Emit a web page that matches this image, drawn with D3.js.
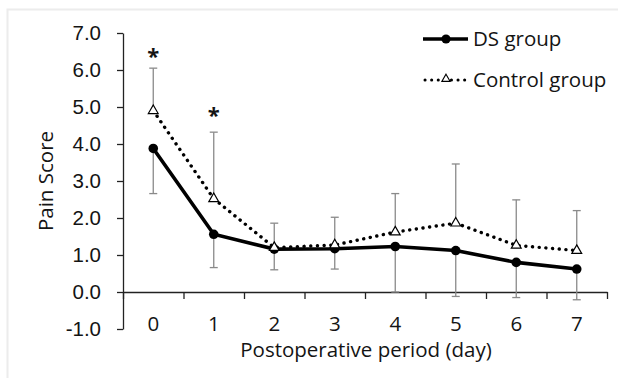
<!DOCTYPE html>
<html>
<head>
<meta charset="utf-8">
<script src="https://cdn.jsdelivr.net/npm/d3@7"></script>
<style>
  body { margin: 0; background: #fff; }
  svg { display: block; font-family: "Open Sans", sans-serif; }
</style>
</head>
<body>
<svg width="618" height="378"></svg>
<script>
const days = [0, 1, 2, 3, 4, 5, 6, 7];
const dsMean = [3.88, 1.56, 1.16, 1.17, 1.23, 1.12, 0.8, 0.62];
const dsSD = [1.22, 0.9, 0.56, 0.55, 1.23, 1.24, 0.95, 0.83];
const ctrlMean = [4.9, 2.52, 1.2, 1.27, 1.62, 1.86, 1.26, 1.12];
const ctrlSD = [1.15, 1.8, 0.66, 0.75, 1.04, 1.6, 1.23, 1.08];
const signifDays = [0, 1];
const signifAt = [6.5, 4.9];
const yTicks = [-1, 0, 1, 2, 3, 4, 5, 6, 7];

const svg = d3.select('svg');
const ink = '#141414';
const fs = 20.5;

// light frame
svg.append('path')
  .attr('d', 'M7.5,380 V9.5 H620')
  .attr('fill', 'none')
  .attr('stroke', '#ececec')
  .attr('stroke-width', 2);

const x = d3.scaleBand().domain(days).range([123, 607]);
const xEdge = d3.scaleLinear().domain([-0.5, 7.5]).range([123, 607]);
const y = d3.scaleLinear().domain([-1, 7]).range([329, 33]);
const cx = d => x(d) + x.bandwidth() / 2;

// y axis
const yAxis = svg.append('g')
  .attr('transform', 'translate(123,0)')
  .call(d3.axisLeft(y).tickValues(yTicks).tickSize(6).tickSizeOuter(0).tickPadding(16)
    .tickFormat(d => d3.format('.1f')(d).replace('\u2212', '-')));
yAxis.selectAll('text').attr('font-size', fs).attr('fill', ink).attr('font-family', null);

// x axis at zero, ticks between categories
svg.append('g')
  .attr('transform', `translate(0,${y(0)})`)
  .call(d3.axisBottom(xEdge).tickValues(d3.range(-0.5, 8, 1)).tickSize(7).tickSizeOuter(0).tickFormat(''));
svg.selectAll('.domain, .tick line').attr('stroke', '#222').attr('stroke-width', 1.3);

svg.append('g')
  .selectAll('text')
  .data(days)
  .join('text')
  .attr('x', d => cx(d))
  .attr('y', 331)
  .attr('text-anchor', 'middle')
  .attr('font-size', fs)
  .attr('fill', ink)
  .text(d => d);

// axis titles
svg.append('text')
  .attr('transform', 'translate(53,181) rotate(-90)')
  .attr('text-anchor', 'middle')
  .attr('font-size', fs)
  .attr('fill', ink)
  .text('Pain Score');
svg.append('text')
  .attr('x', 366)
  .attr('y', 357)
  .attr('text-anchor', 'middle')
  .attr('font-size', fs)
  .attr('fill', ink)
  .text('Postoperative period (day)');

// error bars: control upward, DS downward
const bars = svg.append('g').attr('stroke', '#8a8a8a').attr('stroke-width', 1.3);
function errBar(mean, sd, dir) {
  days.forEach((d, i) => {
    const y0 = y(mean[i]), y1 = y(mean[i] + dir * sd[i]);
    bars.append('line').attr('x1', cx(d)).attr('x2', cx(d)).attr('y1', y0).attr('y2', y1);
    bars.append('line').attr('x1', cx(d) - 4).attr('x2', cx(d) + 4).attr('y1', y1).attr('y2', y1);
  });
}
errBar(ctrlMean, ctrlSD, 1);
errBar(dsMean, dsSD, -1);

const line = d3.line().x((d, i) => cx(days[i])).y(d => y(d));

svg.append('path')
  .datum(ctrlMean)
  .attr('d', line)
  .attr('fill', 'none')
  .attr('stroke', '#000')
  .attr('stroke-width', 3.4)
  .attr('stroke-linecap', 'round')
  .attr('stroke-dasharray', '0.1,6.6');

svg.append('path')
  .datum(dsMean)
  .attr('d', line)
  .attr('fill', 'none')
  .attr('stroke', '#000')
  .attr('stroke-width', 3.6);

svg.append('g')
  .selectAll('circle')
  .data(dsMean)
  .join('circle')
  .attr('cx', (d, i) => cx(days[i]))
  .attr('cy', d => y(d))
  .attr('r', 4.8)
  .attr('fill', '#000');

const tri = d3.symbol().type(d3.symbolTriangle).size(42);
svg.append('g')
  .selectAll('path')
  .data(ctrlMean)
  .join('path')
  .attr('transform', (d, i) => `translate(${cx(days[i])},${y(d)})`)
  .attr('d', tri)
  .attr('fill', '#fff')
  .attr('stroke', '#000')
  .attr('stroke-width', 1.2);

// significance marks
svg.append('g')
  .selectAll('text')
  .data(signifDays)
  .join('text')
  .attr('x', d => cx(d))
  .attr('y', (d, i) => y(signifAt[i]) + 12)
  .attr('text-anchor', 'middle')
  .attr('font-size', 22)
  .attr('font-weight', 'bold')
  .attr('fill', ink)
  .text('*');

// legend
const legend = svg.append('g');
legend.append('line').attr('x1', 423).attr('x2', 468).attr('y1', 39).attr('y2', 39)
  .attr('stroke', '#000').attr('stroke-width', 3.4);
legend.append('circle').attr('cx', 446).attr('cy', 39).attr('r', 4.6).attr('fill', '#000');
legend.append('line').attr('x1', 425).attr('x2', 468).attr('y1', 80).attr('y2', 80)
  .attr('stroke', '#000').attr('stroke-width', 3).attr('stroke-linecap', 'round')
  .attr('stroke-dasharray', '0.1,6.5');
legend.append('path').attr('transform', 'translate(446,79)')
  .attr('d', d3.symbol().type(d3.symbolTriangle).size(30))
  .attr('fill', '#fff').attr('stroke', '#000').attr('stroke-width', 1.1);
legend.append('text').attr('x', 473).attr('y', 46).attr('font-size', fs).attr('fill', ink).text('DS group');
legend.append('text').attr('x', 473).attr('y', 87).attr('font-size', fs).attr('fill', ink).text('Control group');
</script>
</body>
</html>
